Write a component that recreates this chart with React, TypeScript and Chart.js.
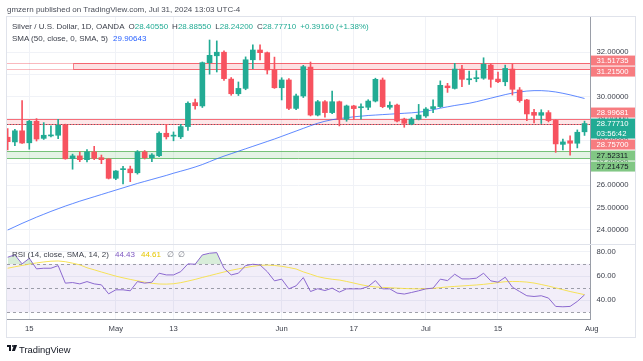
import React, { useEffect, useRef } from 'react';
import { Chart, registerables } from 'chart.js';

Chart.register(...registerables);

// ---------- data (daily candles, index 0 = Apr 15, 2024) ----------
const FIRST_INDEX = -3;
const opens = [
  28.16, 27.95, 28.45,
  27.91, 28.88, 28.11, 28.22, 28.25, 28.71, 27.20, 27.32, 27.15, 27.50,
  27.24, 27.18, 26.31, 26.70, 26.73, 26.56, 27.50, 27.24, 27.33, 28.34,
  28.21, 28.18, 28.64, 29.72, 29.57, 31.52, 31.83, 31.99, 30.78, 30.12,
  30.36, 31.65, 32.09, 31.97, 31.19, 30.39, 30.74, 29.46, 30.02, 31.32,
  29.16, 29.76, 29.27, 29.76, 28.97, 29.57, 29.49, 29.51, 29.79, 30.74,
  29.51, 29.61, 28.98, 28.76, 28.97, 29.12, 29.45, 29.54, 30.47, 30.36,
  31.23, 30.75, 30.80, 30.82, 31.41, 30.78, 30.66, 31.23, 30.29, 29.84,
  29.28, 29.15, 29.27, 28.92, 27.84, 28.00, 27.89, 28.4055,
];
const highs = [
  28.55, 28.52, 29.81,
  28.92, 29.00, 28.82, 28.67, 28.97, 28.75, 27.40, 27.50, 27.60, 27.75,
  27.36, 27.20, 26.66, 26.85, 26.86, 27.56, 27.56, 27.42, 28.40, 28.74,
  28.40, 28.74, 29.75, 29.88, 31.55, 32.54, 32.50, 32.05, 30.85, 30.65,
  31.78, 32.32, 32.32, 32.00, 31.77, 30.84, 30.80, 30.10, 31.40, 31.55,
  29.82, 29.81, 30.24, 29.79, 29.61, 29.60, 29.66, 29.85, 30.82, 30.83,
  29.76, 29.65, 29.02, 29.05, 29.64, 29.50, 29.84, 30.70, 30.59, 31.49,
  31.40, 31.14, 31.16, 31.74, 31.45, 31.09, 31.41, 31.46, 30.40, 29.87,
  29.42, 29.40, 29.36, 28.95, 28.08, 28.22, 28.49, 28.8855,
];
const lows = [
  27.59, 27.78, 27.88,
  27.62, 27.99, 28.06, 28.18, 28.10, 27.17, 26.72, 27.06, 27.05, 27.15,
  26.97, 26.28, 26.25, 26.06, 26.16, 26.50, 27.18, 27.06, 27.28, 28.08,
  28.00, 28.10, 28.47, 29.42, 29.50, 31.00, 31.10, 30.72, 30.05, 30.04,
  30.30, 31.25, 31.64, 31.01, 30.36, 29.84, 29.40, 29.40, 29.95, 29.12,
  29.12, 29.06, 29.22, 28.67, 28.88, 28.97, 28.97, 29.40, 29.75, 29.49,
  29.42, 28.85, 28.61, 28.72, 28.94, 29.05, 29.27, 29.50, 30.18, 30.33,
  30.44, 30.54, 30.66, 30.77, 30.41, 30.62, 30.48, 30.06, 29.74, 28.91,
  28.81, 28.78, 28.85, 27.48, 27.59, 27.35, 27.68, 28.242,
];
const closes = [
  27.96, 28.45, 27.90,
  28.88, 28.08, 28.25, 28.24, 28.70, 27.19, 27.32, 27.15, 27.50, 27.21,
  27.15, 26.31, 26.64, 26.73, 26.56, 27.50, 27.24, 27.36, 28.34, 28.18,
  28.24, 28.64, 29.69, 29.58, 31.52, 31.85, 31.99, 30.80, 30.12, 30.36,
  31.65, 32.09, 31.97, 31.19, 30.39, 30.74, 29.46, 30.02, 31.34, 29.16,
  29.76, 29.27, 29.76, 28.97, 29.57, 29.45, 29.52, 29.79, 30.77, 29.54,
  29.60, 28.89, 28.79, 28.98, 29.16, 29.43, 29.54, 30.50, 30.39, 31.23,
  30.77, 30.79, 30.84, 31.45, 30.77, 30.66, 31.26, 30.32, 29.81, 29.21,
  29.15, 29.27, 28.91, 27.86, 27.95, 27.89, 28.3855, 28.7771,
];
const sma50 = [
  23.98, 24.13, 24.28,
  24.42, 24.56, 24.69, 24.82, 24.94, 25.06, 25.17, 25.28, 25.38, 25.48,
  25.58, 25.68, 25.78, 25.88, 25.98, 26.08, 26.17, 26.26, 26.35, 26.44,
  26.54, 26.63, 26.72, 26.82, 26.93, 27.06, 27.19, 27.31, 27.42, 27.53,
  27.64, 27.75, 27.86, 27.97, 28.08, 28.20, 28.32, 28.44, 28.56, 28.68,
  28.79, 28.88, 28.95, 29.00, 29.04, 29.08, 29.11, 29.14, 29.16, 29.18,
  29.20, 29.22, 29.24, 29.26, 29.29, 29.33, 29.40, 29.47, 29.53, 29.59,
  29.64, 29.69, 29.76, 29.84, 29.92, 30.00, 30.08, 30.15, 30.20, 30.24,
  30.26, 30.26, 30.24, 30.20, 30.14, 30.07, 29.99, 29.90643,
];
const rsi = [
  75.5, 77.4, 70.0,
  74.6, 65.9, 66.4, 66.4, 68.6, 54.1, 54.6, 53.5, 55.4, 53.5,
  52.7, 45.3, 48.6, 48.6, 47.8, 55.4, 54.1, 54.9, 62.3, 60.9,
  60.9, 63.6, 70.0, 69.7, 77.4, 78.8, 79.3, 66.4, 60.9, 62.3,
  68.6, 69.7, 69.1, 63.6, 56.0, 57.4, 49.4, 51.9, 58.7, 47.2,
  49.5, 48.0, 50.0, 46.7, 49.4, 49.4, 49.4, 51.3, 56.2, 49.4,
  49.4, 45.9, 45.1, 46.4, 47.8, 49.4, 50.0, 57.4, 56.2, 61.5,
  57.6, 57.6, 58.2, 62.3, 56.0, 54.9, 59.0, 50.8, 47.2, 43.7,
  43.1, 43.7, 41.8, 34.9, 34.6, 34.9, 39.0, 44.43,
];
const rsiMa = [
  66.4, 67.6, 68.7,
  69.8, 70.8, 71.6, 72.2, 72.4, 71.8, 70.6, 69.2, 66.8, 65.1,
  63.3, 61.6, 59.9, 58.5, 57.2, 56.0, 54.9, 54.0, 53.4, 53.3,
  53.6, 54.5, 55.8, 57.2, 58.8, 60.3, 61.8, 63.3, 64.7, 65.9,
  67.0, 68.0, 68.8, 69.0, 68.7, 68.0, 67.0, 65.8, 63.4, 61.5,
  59.5, 58.2, 57.3, 56.7, 55.5, 54.2, 52.8, 51.7, 51.0, 50.6,
  50.3, 50.0, 49.7, 49.5, 49.4, 49.5, 49.8, 50.4, 51.0, 51.4,
  51.8, 52.2, 52.6, 53.1, 53.8, 54.6, 55.3, 55.5, 55.4, 55.0,
  54.2, 53.0, 51.7, 50.2, 48.7, 47.2, 45.9, 44.61,
];

const tickIndex = [0, 12, 20, 35, 45, 55, 65, 78];
const tickLabels = ['15', 'May', '13', 'Jun', '17', 'Jul', '15', 'Aug'];
const priceTicks = [24, 25, 26, 27, 28, 29, 30, 31, 32];
const rsiTicks = [40, 60, 80];
const rsiLevels = [70, 50, 30];

const zoneTop = [31.51735, 31.215];
const zoneTopStart = 6;
const zoneMid = [28.99681, 28.757];
const zoneLow = [27.52311, 27.21475];
const countdown = '03:56:42';

const X_MIN = -3.093;
const X_MAX = 77.76;
const PRICE_MIN = 23.3514;
const PRICE_MAX = 33.5766;
const RSI_MIN = 24.52;
const RSI_MAX = 86.41;

// ---------- style ----------
const FONT = "'Liberation Sans', Arial, sans-serif";
const FS = 7.7;
const HFS = 8;
const UP = '#22ab94';
const DOWN = '#f7525f';
const GRID = '#f0f2f7';
const AXIS = '#9a9ea8';
const TXT = '#3b3f4a';

const indices = opens.map((_, k) => FIRST_INDEX + k);
const last = opens.length - 1;
const candleColors = opens.map((o, k) => (closes[k] >= o ? UP : DOWN));

const overlayPlugin = {
  id: 'tvOverlay',
  beforeDatasetsDraw(chart: any) {
    const { ctx, chartArea: a, scales } = chart;
    const x = scales.x, y = scales.y, yr = scales.yr;
    ctx.save();
    ctx.beginPath();
    ctx.rect(a.left, a.top, a.right - a.left, a.bottom - a.top);
    ctx.clip();

    // RSI band
    const y70 = yr.getPixelForValue(rsiLevels[0]);
    const y30 = yr.getPixelForValue(rsiLevels[2]);
    ctx.fillStyle = 'rgba(126,87,194,0.1)';
    ctx.fillRect(a.left, y70, a.right - a.left, y30 - y70);
    ctx.setLineDash([3, 3]);
    ctx.strokeStyle = 'rgba(120,123,134,0.7)';
    ctx.lineWidth = 1;
    for (const lv of rsiLevels) {
      const yy = Math.round(yr.getPixelForValue(lv)) + 0.5;
      ctx.beginPath();
      ctx.moveTo(a.left, yy);
      ctx.lineTo(a.right, yy);
      ctx.stroke();
    }
    ctx.setLineDash([]);

    const band = (v1: number, v2: number, x0: number, fill: string, stroke: string, left: boolean) => {
      const t = Math.round(y.getPixelForValue(v1)) + 0.5;
      const b = Math.round(y.getPixelForValue(v2)) + 0.5;
      ctx.fillStyle = fill;
      ctx.fillRect(x0, t, a.right - x0, b - t);
      ctx.strokeStyle = stroke;
      ctx.beginPath();
      ctx.moveTo(x0, t); ctx.lineTo(a.right, t);
      ctx.moveTo(x0, b); ctx.lineTo(a.right, b);
      if (left) { ctx.moveTo(x0, t); ctx.lineTo(x0, b); }
      ctx.stroke();
    };
    band(zoneTop[0], zoneTop[1], a.left, 'rgba(255,255,255,0)', 'rgba(242,54,69,0.35)', false);
    const zx = Math.round(x.getPixelForValue(zoneTopStart)) + 0.5;
    band(zoneTop[0], zoneTop[1], zx, 'rgba(242,54,69,0.15)', 'rgba(242,54,69,0.6)', true);
    band(zoneMid[0], zoneMid[1], a.left, 'rgba(242,54,69,0.12)', 'rgba(242,54,69,0.7)', false);
    band(zoneLow[0], zoneLow[1], a.left, 'rgba(76,175,80,0.15)', 'rgba(76,175,80,0.75)', false);

    const lp = Math.round(y.getPixelForValue(closes[last])) + 0.5;
    ctx.setLineDash([1, 2]);
    ctx.strokeStyle = 'rgba(80,90,100,0.8)';
    ctx.beginPath();
    ctx.moveTo(a.left, lp);
    ctx.lineTo(a.right, lp);
    ctx.stroke();
    ctx.setLineDash([]);
    ctx.restore();
  },
  afterDraw(chart: any) {
    const { ctx, chartArea: a, scales } = chart;
    const y = scales.y;
    ctx.save();
    const sep = Math.round(y.bottom) + 0.5;
    ctx.strokeStyle = '#e0e3eb';
    ctx.lineWidth = 1;
    ctx.beginPath();
    ctx.moveTo(a.left, sep);
    ctx.lineTo(635, sep);
    ctx.stroke();
    ctx.strokeStyle = '#e0e3eb';
    ctx.strokeRect(6.5, 16.5, 629, 321);

    const H = 10;
    const GAP = 1;
    const boxes: any[] = [
      { v: zoneTop[0], bg: '#f77c80', fg: '#ffffff' },
      { v: zoneTop[1], bg: '#f77c80', fg: '#ffffff' },
      { v: zoneMid[0], bg: '#f77c80', fg: '#ffffff' },
      { v: closes[last], bg: UP, fg: '#ffffff', sub: countdown, anchor: true },
      { v: zoneMid[1], bg: '#f77c80', fg: '#ffffff' },
      { v: zoneLow[0], bg: '#81c784', fg: '#131722' },
      { v: zoneLow[1], bg: '#81c784', fg: '#131722' },
    ].map((b) => {
      const py = y.getPixelForValue(b.v);
      const h = b.sub ? 2 * H : H;
      return { ...b, top: py - H / 2, h };
    });
    boxes.sort((p, q) => p.top - q.top);
    for (let it = 0; it < 200; it++) {
      for (let i = 0; i < boxes.length - 1; i++) {
        const p = boxes[i], q = boxes[i + 1];
        const ov = p.top + p.h + GAP - q.top;
        if (ov > 0) {
          if (p.anchor) q.top += ov;
          else if (q.anchor) p.top -= ov;
          else { p.top -= ov / 2; q.top += ov / 2; }
        }
      }
    }
    ctx.font = `${FS}px ${FONT}`;
    ctx.textBaseline = 'middle';
    ctx.textAlign = 'left';
    const bx = Math.round(a.right) + 1;
    for (const b of boxes) {
      ctx.fillStyle = b.bg;
      ctx.fillRect(bx, b.top, 635 - bx, b.h);
      ctx.fillStyle = b.fg;
      ctx.fillText(b.v.toFixed(5), a.right + 6.5, b.top + H / 2 + 0.5);
      if (b.sub) ctx.fillText(b.sub, a.right + 6.5, b.top + H + H / 2);
    }
    ctx.restore();
  },
};

export default function App() {
  const ref = useRef<HTMLCanvasElement | null>(null);

  useEffect(() => {
    document.body.style.margin = '0';
    const canvas = ref.current;
    if (!canvas) return;
    const chart = new Chart(canvas, {
      type: 'bar',
      data: {
        datasets: [
          {
            type: 'bar',
            label: 'body',
            data: indices.map((x, k) => ({ x, y: [opens[k], closes[k]] })) as any,
            backgroundColor: candleColors,
            borderWidth: 0,
            barThickness: 5,
            grouped: false,
            minBarLength: 1,
            yAxisID: 'y',
            order: 0,
          } as any,
          {
            type: 'bar',
            label: 'wick',
            data: indices.map((x, k) => ({ x, y: [lows[k], highs[k]] })) as any,
            backgroundColor: candleColors,
            borderWidth: 0,
            barThickness: 1,
            grouped: false,
            yAxisID: 'y',
            order: 1,
          } as any,
          {
            type: 'line',
            label: 'SMA 50',
            data: indices.map((x, k) => ({ x, y: sma50[k] })),
            borderColor: 'rgba(41,98,255,0.75)',
            borderWidth: 1,
            pointRadius: 0,
            tension: 0,
            yAxisID: 'y',
            order: 2,
          } as any,
          {
            type: 'line',
            label: 'RSI MA',
            data: indices.map((x, k) => ({ x, y: rsiMa[k] })),
            borderColor: 'rgba(246,224,70,0.9)',
            borderWidth: 1,
            pointRadius: 0,
            tension: 0,
            yAxisID: 'yr',
            order: 4,
          } as any,
          {
            type: 'line',
            label: 'RSI',
            data: indices.map((x, k) => ({ x, y: rsi[k] })),
            borderColor: '#8b68cf',
            borderWidth: 1,
            pointRadius: 0,
            tension: 0,
            yAxisID: 'yr',
            order: 3,
            fill: { target: { value: 70 }, above: 'rgba(76,175,80,0.22)', below: 'rgba(0,0,0,0)' },
          } as any,
        ],
      },
      options: {
        responsive: false,
        animation: false,
        devicePixelRatio: 1,
        layout: { padding: { left: 7, top: 17, right: 8, bottom: 24 } },
        plugins: { legend: { display: false }, tooltip: { enabled: false } },
        scales: {
          x: {
            type: 'linear',
            min: X_MIN,
            max: X_MAX,
            offset: false,
            afterBuildTicks: (s: any) => { s.ticks = tickIndex.map((v) => ({ value: v })); },
            afterFit: (s: any) => { s.height = 18; },
            ticks: {
              autoSkip: false,
              maxRotation: 0,
              padding: 5,
              color: TXT,
              font: { family: FONT, size: FS },
              callback: (v: any) => { const k = tickIndex.indexOf(Number(v)); return k >= 0 ? tickLabels[k] : ''; },
            },
            grid: {
              offset: false,
              drawTicks: false,
              color: (c: any) => (c.tick && c.tick.value > X_MAX ? 'rgba(0,0,0,0)' : GRID),
            },
            border: { color: AXIS },
          },
          y: {
            type: 'linear',
            position: 'right',
            stack: 'panes',
            stackWeight: 227,
            min: PRICE_MIN,
            max: PRICE_MAX,
            afterBuildTicks: (s: any) => { s.ticks = priceTicks.map((v) => ({ value: v })); },
            afterFit: (s: any) => { s.width = 45; },
            ticks: {
              autoSkip: false,
              padding: 6.5,
              color: TXT,
              font: { family: FONT, size: FS },
              callback: (v: any) => Number(v).toFixed(5),
            },
            grid: { drawTicks: false, color: GRID },
            border: { color: AXIS },
          },
          yr: {
            type: 'linear',
            position: 'right',
            stack: 'panes',
            stackWeight: 75,
            min: RSI_MIN,
            max: RSI_MAX,
            afterBuildTicks: (s: any) => { s.ticks = rsiTicks.map((v) => ({ value: v })); },
            afterFit: (s: any) => { s.width = 45; },
            ticks: {
              autoSkip: false,
              padding: 6.5,
              color: TXT,
              font: { family: FONT, size: FS },
              callback: (v: any) => Number(v).toFixed(2),
            },
            grid: { drawTicks: false, color: GRID },
            border: { color: AXIS },
          },
        },
      } as any,
      plugins: [overlayPlugin],
    });
    return () => chart.destroy();
  }, []);

  const green = UP;
  const chg = closes[last] - closes[last - 1];
  const pct = (chg / closes[last - 1]) * 100;
  const txt: React.CSSProperties = { position: 'absolute', fontSize: HFS, lineHeight: '9px', whiteSpace: 'nowrap', fontFamily: FONT };

  return (
    <div style={{ position: 'fixed', left: 0, top: 0, width: 643, height: 361, background: '#ffffff', overflow: 'hidden', fontFamily: FONT }}>
      <canvas ref={ref} width={643} height={361} style={{ position: 'absolute', left: 0, top: 0, width: 643, height: 361 }} />
      <div style={{ ...txt, left: 7, top: 5, color: '#4a4e59' }}>
        gmzern published on TradingView.com, Jul 31, 2024 13:03 UTC-4
      </div>
      <div style={{ ...txt, left: 12, top: 22, color: TXT }}>
        <span>Silver / U.S. Dollar, 1D, OANDA</span>
        <span style={{ marginLeft: 4 }}>O</span><span style={{ color: green }}>{opens[last].toFixed(5)}</span>
        <span style={{ marginLeft: 4 }}>H</span><span style={{ color: green }}>{highs[last].toFixed(5)}</span>
        <span style={{ marginLeft: 4 }}>L</span><span style={{ color: green }}>{lows[last].toFixed(5)}</span>
        <span style={{ marginLeft: 4 }}>C</span><span style={{ color: green }}>{closes[last].toFixed(5)}</span>
        <span style={{ marginLeft: 4, color: green }}>{`+${chg.toFixed(5)} (+${pct.toFixed(2)}%)`}</span>
      </div>
      <div style={{ ...txt, left: 12, top: 34, color: TXT }}>
        <span>SMA (50, close, 0, SMA, 5)</span>
        <span style={{ marginLeft: 5, color: '#2962ff' }}>{sma50[last].toFixed(5)}</span>
      </div>
      <div style={{ ...txt, left: 12, top: 250, color: TXT }}>
        <span>RSI (14, close, SMA, 14, 2)</span>
        <span style={{ marginLeft: 6, color: '#7e57c2' }}>{rsi[last].toFixed(2)}</span>
        <span style={{ marginLeft: 6, color: '#e6c700' }}>{rsiMa[last].toFixed(2)}</span>
        <span style={{ marginLeft: 6, color: '#787b86' }}>∅</span>
        <span style={{ marginLeft: 4, color: '#787b86' }}>∅</span>
      </div>
      <div style={{ position: 'absolute', left: 7, top: 345, width: 10, height: 7 }}>
        <div style={{ position: 'absolute', left: 0, top: 0, width: 4, height: 2, background: '#131722' }} />
        <div style={{ position: 'absolute', left: 2, top: 0, width: 2, height: 6, background: '#131722' }} />
        <div style={{ position: 'absolute', left: 4.5, top: 0, width: 2, height: 2, borderRadius: 1, background: '#131722' }} />
        <div style={{ position: 'absolute', left: 6, top: 0, width: 3, height: 6, background: '#131722', transform: 'skewX(-20deg)' }} />
      </div>
      <div style={{ ...txt, left: 19, top: 344, fontSize: 9.4, lineHeight: '11px', color: '#131722' }}>TradingView</div>
    </div>
  );
}
